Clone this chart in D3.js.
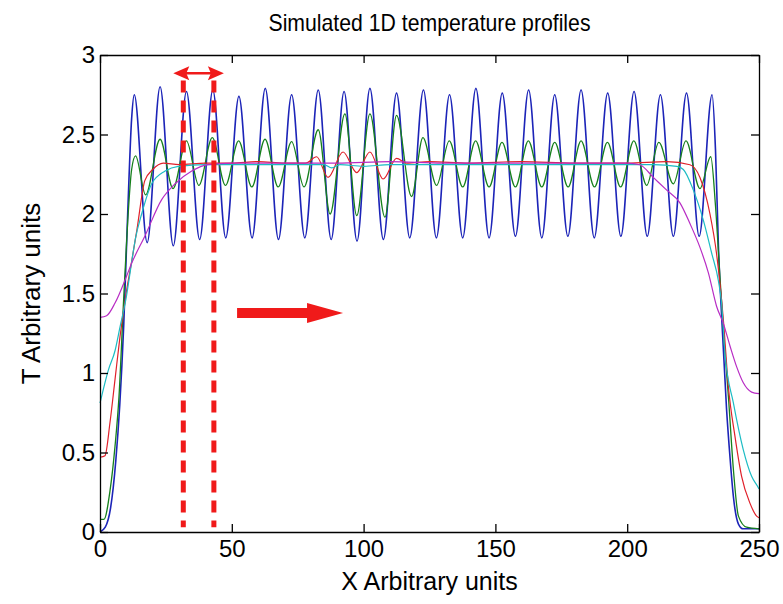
<!DOCTYPE html>
<meta charset="utf-8">
<script src="https://d3js.org/d3.v7.min.js"></script>
<style>
  body { margin: 0; background: #fff; }
  text { font-family: "Liberation Sans", Arial, sans-serif; }
</style>
<body>
<div id="chart"></div>
<script>
// profiles, [x, T]
const blueProfile = [[0,0],[2,0.03],[4,0.15],[6,0.45],[7.5,0.8],[9,1.3],[10.5,2.0],[12,2.6],[13,2.75],
  [17.9,1.82],[22.8,2.80],[27.8,1.80],[32.8,2.77],[37.8,1.84],[42.8,2.78],[47.7,1.85],[52.7,2.74],[57.7,1.85],
  [62.7,2.79],[67.7,1.84],[72.7,2.75],[77.7,1.85],[82.8,2.78],[87.7,1.84],[92.6,2.77],[97.5,1.83],[102.4,2.79],
  [107.5,1.84],[112.5,2.76],[117.5,1.85],[122.7,2.78],[127.6,1.85],[132.6,2.75],[137.6,1.85],[142.6,2.79],
  [147.6,1.85],[152.6,2.76],[157.6,1.86],[162.6,2.78],[167.6,1.85],[172.5,2.75],[177.5,1.86],[182.5,2.78],
  [187.5,1.85],[192.6,2.76],[197.6,1.86],[202.6,2.77],[207.6,1.86],[212.6,2.75],[217.5,1.86],[222.5,2.76],
  [227.3,1.86],[232.2,2.75],[233.5,2.4],[234.6,1.8],[236,1.3],[237.7,0.77],[239,0.47],[240.3,0.22],
  [242.2,0.05],[244,0.02],[250,0.02]];

const greenProfile = [[0,0.08],[1.5,0.08],[3.8,0.26],[5.7,0.54],[7.2,0.85],[8.9,1.44],[10.5,1.95],[12,2.28],[13.5,2.365],
  [17.3,2.12],[22.8,2.47],[27.7,2.16],[32.8,2.46],[37.5,2.18],[42.6,2.48],[47.6,2.18],[52.6,2.46],[57.6,2.17],
  [62.6,2.47],[67.6,2.17],[72.7,2.455],[77.4,2.17],[82.8,2.53],[87.3,2.0],[92.9,2.63],[97.4,1.99],[102.4,2.63],
  [108.1,1.98],[112.5,2.62],[118.2,2.11],[122.5,2.48],[127.7,2.18],[132.5,2.46],[137.6,2.17],[142.5,2.46],
  [147.6,2.17],[152.5,2.45],[157.6,2.17],[162.5,2.46],[167.6,2.17],[172.5,2.45],[177.6,2.17],[182.5,2.46],
  [187.6,2.17],[192.5,2.45],[197.5,2.17],[202.5,2.46],[207.4,2.18],[212,2.45],[217.5,2.19],[222.3,2.46],
  [227.6,2.16],[231.7,2.36],[233.5,2.05],[235.2,1.6],[236.8,1.2],[238.4,0.85],[240.3,0.39],[242.2,0.1],
  [245.3,0.03],[250,0.02]];

const redProfile = [[0,0.47],[1.9,0.48],[3.8,0.69],[5.7,0.96],[7.6,1.23],[10.1,1.52],[12,1.7],[14,1.9],[17,2.21],
  [20,2.28],[24,2.32],[30,2.31],[40,2.32],[50,2.32],[60,2.33],[70,2.32],[78,2.32],[82.2,2.36],[86.5,2.23],
  [92.2,2.39],[97.4,2.26],[102.4,2.39],[107.4,2.22],[112.5,2.35],[116.3,2.32],[125,2.33],[140,2.32],[160,2.33],
  [180,2.32],[200,2.32],[215,2.33],[223.8,2.31],[227.6,2.23],[231.4,2.0],[233.9,1.75],[236.5,1.33],[238.4,0.91],
  [240.9,0.6],[243.4,0.35],[246.6,0.18],[249.1,0.1],[250,0.09]];

const cyanProfile = [[0,0.81],[3.2,1.02],[5.7,1.14],[7.6,1.29],[10.1,1.49],[11.4,1.63],[13.5,1.85],[15.8,2.0],
  [19.6,2.19],[24.7,2.27],[29.7,2.30],[40,2.31],[60,2.31],[80,2.31],[85,2.31],[87.9,2.29],[91,2.31],[100,2.30],
  [110,2.31],[130,2.31],[150,2.31],[170,2.31],[190,2.31],[210,2.31],[218.8,2.30],[221.3,2.28],[225.1,2.15],
  [228.9,1.96],[232.1,1.75],[234.6,1.58],[235.8,1.44],[237.1,1.12],[240.3,0.81],[244,0.52],[247.2,0.35],
  [249.7,0.28],[250,0.27]];

const magentaProfile = [[0,1.35],[2.5,1.36],[5.7,1.44],[10.1,1.61],[12,1.69],[17,1.86],[23.4,2.09],[28.5,2.19],
  [34.8,2.27],[41,2.31],[50,2.32],[70,2.32],[90,2.32],[110,2.33],[130,2.32],[150,2.32],[170,2.32],[190,2.32],
  [200,2.32],[204.8,2.31],[209.9,2.23],[215,2.15],[220,2.07],[223.8,1.94],[227.6,1.79],[230.8,1.63],[233.9,1.42],
  [236.5,1.31],[239,1.17],[241.5,1.04],[244,0.94],[247.2,0.88],[250,0.87]];

const xTicks = [0, 50, 100, 150, 200, 250];
const yTicks = [0, 0.5, 1, 1.5, 2, 2.5, 3];

// annotations (data units)
const markerX = [31.6, 43.2];     // dashed verticals
const markerT = [0.03, 2.84];
const spanT = 2.885;              // double arrow between them
const moveX = [52, 92.2];         // big arrow
const moveT = 1.377;

const W = 783, H = 604;
const m = {top: 55, right: 24, bottom: 72, left: 100};

const svg = d3.select("#chart").append("svg")
  .attr("width", W).attr("height", H);

const x = d3.scaleLinear().domain([0, 250]).range([m.left, W - m.right]);
const y = d3.scaleLinear().domain([0, 3]).range([H - m.bottom, m.top]);

const line = d3.line()
  .x(d => x(d[0])).y(d => y(d[1]))
  .curve(d3.curveMonotoneX);

const series = [
  {data: blueProfile, color: "#1c24b8", w: 1.6},
  {data: greenProfile, color: "#16801c", w: 1.3},
  {data: redProfile, color: "#e0202a", w: 1.2},
  {data: cyanProfile, color: "#1cbcc4", w: 1.2},
  {data: magentaProfile, color: "#b82cc4", w: 1.2}
];

const plot = svg.append("g");
plot.selectAll("path.profile")
  .data(series)
  .enter().append("path")
    .attr("class", "profile")
    .attr("fill", "none")
    .attr("stroke", d => d.color)
    .attr("stroke-width", d => d.w)
    .attr("stroke-linejoin", "round")
    .attr("d", d => line(d.data));

// red annotations
const red = "#f01a1a";
plot.selectAll("line.marker")
  .data(markerX)
  .enter().append("line")
    .attr("class", "marker")
    .attr("x1", d => x(d)).attr("x2", d => x(d))
    .attr("y1", y(markerT[1])).attr("y2", y(markerT[0]))
    .attr("stroke", red)
    .attr("stroke-width", 5)
    .attr("stroke-dasharray", "12,8");

const ya = y(spanT);
const xa0 = x(markerX[0]), xa1 = x(markerX[1]);
plot.append("line")
  .attr("x1", xa0 - 4).attr("x2", xa1 + 4)
  .attr("y1", ya).attr("y2", ya)
  .attr("stroke", red).attr("stroke-width", 2.5);
plot.append("path")
  .attr("fill", red)
  .attr("d", `M${xa0 - 10},${ya} L${xa0 + 6},${ya - 7} L${xa0 + 3},${ya} L${xa0 + 6},${ya + 7} Z`);
plot.append("path")
  .attr("fill", red)
  .attr("d", `M${xa1 + 10},${ya} L${xa1 - 6},${ya - 7} L${xa1 - 3},${ya} L${xa1 - 6},${ya + 7} Z`);

const bx0 = x(moveX[0]), bx1 = x(moveX[1]), by = y(moveT);
plot.append("path")
  .attr("fill", red)
  .attr("d", `M${bx0},${by - 5} L${bx1 - 36},${by - 5} L${bx1 - 36},${by - 10} L${bx1},${by}
              L${bx1 - 36},${by + 10} L${bx1 - 36},${by + 5} L${bx0},${by + 5} Z`);

// axes with inward ticks, box on
const axFont = g => g.selectAll("text").style("font-size", "24px").attr("fill", "#000");
const axLine = g => { g.select(".domain").attr("stroke", "#000").attr("stroke-width", 1.3);
  g.selectAll(".tick line").attr("stroke", "#000").attr("stroke-width", 1.3); };

svg.append("g")
  .attr("transform", `translate(0,${y(0)})`)
  .call(d3.axisBottom(x).tickValues(xTicks).tickFormat(d3.format("d"))
    .tickSizeInner(-8).tickSizeOuter(0).tickPadding(8))
  .call(axFont).call(axLine);

svg.append("g")
  .attr("transform", `translate(0,${y(3)})`)
  .call(d3.axisTop(x).tickValues(xTicks).tickFormat("")
    .tickSizeInner(-8).tickSizeOuter(0))
  .call(axLine);

svg.append("g")
  .attr("transform", `translate(${x(0)},0)`)
  .call(d3.axisLeft(y).tickValues(yTicks).tickFormat(d => d)
    .tickSizeInner(-8).tickSizeOuter(0).tickPadding(5))
  .call(axFont).call(axLine);

svg.append("g")
  .attr("transform", `translate(${x(250)},0)`)
  .call(d3.axisRight(y).tickValues(yTicks).tickFormat("")
    .tickSizeInner(-8).tickSizeOuter(0))
  .call(axLine);

svg.selectAll(".domain").attr("fill", "none");

// titles (title glyphs in the picture are a little condensed)
svg.append("text")
  .attr("x", (x(0) + x(250)) / 2).attr("y", 31)
  .attr("text-anchor", "middle")
  .attr("textLength", 322)
  .attr("lengthAdjust", "spacingAndGlyphs")
  .style("font-size", "24px")
  .text("Simulated 1D temperature profiles");

svg.append("text")
  .attr("x", (x(0) + x(250)) / 2).attr("y", 590)
  .attr("text-anchor", "middle")
  .style("font-size", "25px")
  .text("X Arbitrary units");

svg.append("text")
  .attr("transform", `translate(40,${(y(0) + y(3)) / 2}) rotate(-90)`)
  .attr("text-anchor", "middle")
  .style("font-size", "26px")
  .text("T Arbitrary units");
</script>
</body>
